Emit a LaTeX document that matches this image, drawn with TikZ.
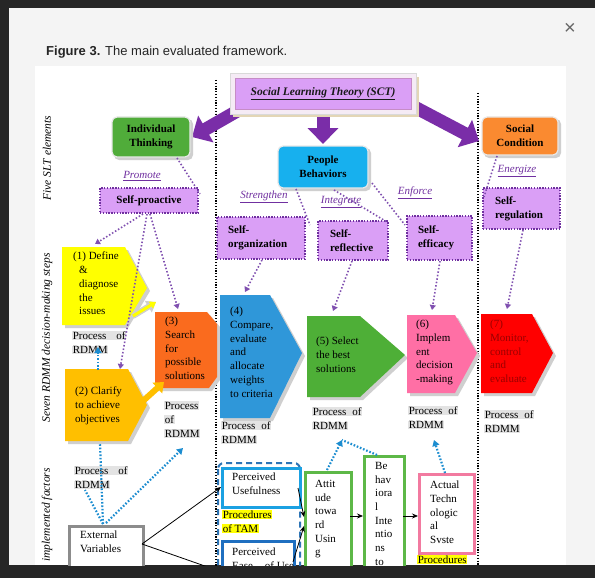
\documentclass[tikz,border=0pt]{standalone}
\usepackage{fontspec}
\setmainfont{Liberation Serif}
\newfontfamily\sansf{Liberation Sans}
\usetikzlibrary{arrows.meta}
\definecolor{bgdark}{HTML}{262626}
\definecolor{modal}{HTML}{F4F4F4}
\definecolor{lav}{HTML}{DA9FF6}
\definecolor{purp}{HTML}{7A2DA8}
\definecolor{dotp}{HTML}{8050B0}
\definecolor{lblp}{HTML}{7030A0}
\definecolor{itg}{HTML}{50AC3A}
\definecolor{pbc}{HTML}{17B0EE}
\definecolor{sco}{HTML}{FA8A30}
\definecolor{yel}{HTML}{FFFF00}
\definecolor{cla}{HTML}{FFBF00}
\definecolor{sea}{HTML}{FA6B1E}
\definecolor{cmp}{HTML}{2F97D9}
\definecolor{sel}{HTML}{4EAF37}
\definecolor{imp}{HTML}{FF6FA5}
\definecolor{mon}{HTML}{FF0000}
\definecolor{mont}{HTML}{9A0000}
\definecolor{hl}{HTML}{E3E3E3}
\definecolor{bdot}{HTML}{1C8DD0}
\definecolor{shad}{HTML}{CFCFCF}
\definecolor{tamb}{HTML}{2E75B6}
\definecolor{pub}{HTML}{1BA1E2}
\definecolor{peub}{HTML}{1F6FC0}
\definecolor{grb}{HTML}{5DB847}
\definecolor{pkb}{HTML}{F27AA0}
\definecolor{tan}{HTML}{E3D6B6}
\setlength{\fboxsep}{0.6pt}
\newcommand{\hlg}[1]{\colorbox{hl}{#1}}
\newcommand{\hly}[1]{\colorbox{yel}{#1}}
\tikzset{
  txt/.style={inner sep=0pt, anchor=north west, align=left, font=\fontsize{11}{13.7}\selectfont},
  ptxt/.style={inner sep=0pt, anchor=north west, align=left, font=\fontsize{11}{14}\selectfont},
  roundbox/.style={draw=white!82!gray, line width=1.2pt, rounded corners=5pt, align=center, inner sep=0pt, font=\fontsize{11}{13.7}\selectfont\bfseries},
  dotbox/.style={draw=lblp, fill=lav, line width=1.8pt, dash pattern=on 1.4pt off 1.4pt, inner sep=0pt, align=left, font=\fontsize{11}{14}\selectfont\bfseries},
  verbl/.style={text=lblp, inner sep=0pt, font=\fontsize{11}{13}\selectfont\itshape},
  sidel/.style={rotate=90, inner sep=0pt, font=\fontsize{11.5}{12}\selectfont\itshape},
  dotarr/.style={draw=dotp, line width=1.6pt, dash pattern=on 1.5pt off 2pt, -{Triangle[width=6pt,length=5pt]}},
  dotline/.style={draw=dotp, line width=1.6pt, dash pattern=on 1.5pt off 2pt},
  bluarr/.style={draw=bdot, line width=2.2pt, dash pattern=on 1.6pt off 1.8pt, -{Triangle[width=7pt,length=6pt]}},
  bluline/.style={draw=bdot, line width=2.2pt, dash pattern=on 1.6pt off 1.8pt},
  bigarr/.style={draw=purp, line width=13pt, -{Triangle[width=30pt,length=16pt]}},
  blkarr/.style={draw=black, line width=0.8pt, -{Stealth[width=5pt,length=6pt]}},
  sepline/.style={draw=black, line width=2pt, dash pattern=on 1.2pt off 1.6pt},
  tbox/.style={fill=white, line width=3pt},
}
\begin{document}
\begin{tikzpicture}[x=1pt,y=-1pt]
\useasboundingbox (0,0) rectangle (595,578);
\fill[bgdark] (0,0) rectangle (595,578);
\fill[modal] (9,8) rectangle (595,565);
\node[font=\sansf\fontsize{20}{20}\selectfont, text=black!60, inner sep=0pt] (close) at (570,29) {×};
\node[font=\sansf\fontsize{13}{13}\selectfont, text=black!85, inner sep=0pt, anchor=base west] (title) at (46,55.5) {\textbf{Figure 3.} The main evaluated framework.};
\begin{scope}
\clip (35,66) rectangle (566,565);
\fill[white] (35,66) rectangle (566,565);
% separators
\coordinate (v1t) at (216,80); \coordinate (v1b) at (216,570);
\coordinate (v2t) at (478,93); \coordinate (v2b) at (478,570);
\draw[sepline] (v1t) -- (v1b);
\draw[sepline] (v2t) -- (v2b);
% side labels
\node[sidel] (lab1) at (47,158) {Five SLT elements};
\node[sidel] (lab2) at (47,338) {Seven RDMM decision-making steps};
\node[sidel, anchor=east] (lab3) at (47,468) {implemented factors};
% big purple arrows
\coordinate (a1s) at (246,106); \coordinate (a1e) at (192,137);
\coordinate (a2s) at (323,108); \coordinate (a2e) at (323,144);
\coordinate (a3s) at (405,102); \coordinate (a3e) at (479,141);
\draw[bigarr] (a1s) -- (a1e);
\draw[bigarr] (a2s) -- (a2e);
\draw[bigarr] (a3s) -- (a3e);
% SCT box
\fill[tan] (233,77) rectangle (419,117);
\fill[white!92!violet, draw=black!15] (230,73) rectangle (416,114);
\node[fill=lav, draw=violet!45, line width=0.8pt, minimum width=176pt, minimum height=31pt, inner sep=0pt,
  font=\fontsize{11.5}{12}\selectfont\bfseries\itshape, text=black!90] (sct) at (323,94) {\underline{Social Learning Theory (SCT)}};
% SLT element boxes
\fill[shad, rounded corners=5pt] (114,119) rectangle (193,160);
\node[roundbox, fill=itg, minimum width=78pt, minimum height=40pt] (it) at (151,137) {Individual\\Thinking};
\fill[shad, rounded corners=5pt] (280,148) rectangle (371,191);
\node[roundbox, fill=pbc, minimum width=90pt, minimum height=42pt] (pb) at (323,167) {People\\Behaviors};
\fill[shad, rounded corners=5pt] (484,119) rectangle (561,158);
\node[roundbox, fill=sco, minimum width=76pt, minimum height=38pt] (sc) at (520,136) {Social\\Condition};
% verbs
\node[verbl] (vpro) at (142,176) {\underline{Promote}};
\node[verbl] (vstr) at (264,197) {\underline{Strengthen}};
\node[verbl] (vint) at (341,202) {\underline{Integrate}};
\node[verbl] (venf) at (415,193) {\underline{Enforce}};
\node[verbl] (vene) at (517,171) {\underline{Energize}};
% dotted boxes
\node[dotbox, minimum width=98pt, minimum height=25pt, align=center] (sp) at (149,200.5) {Self-proactive};
\node[dotbox, minimum width=88pt, minimum height=42pt, text width=66pt] (so) at (261,238) {Self-\\organization};
\node[dotbox, minimum width=70pt, minimum height=39pt, text width=46pt] (sr) at (353,240.5) {Self-\\reflective};
\node[dotbox, minimum width=65pt, minimum height=44pt, text width=43pt] (se) at (439.5,238) {Self-\\efficacy};
\node[dotbox, minimum width=77pt, minimum height=41pt, text width=53pt] (sg) at (521.5,208.5) {Self-\\regulation};
% step shapes
\fill[shad] (65,250) -- (128,250) -- (150,291) -- (128,328) -- (65,328) -- cycle;
\fill[yel] (62,247) -- (125,247) -- (147,288) -- (125,325) -- (62,325) -- cycle;
\fill[shad] (68,372) -- (131,372) -- (150,408) -- (131,444) -- (68,444) -- cycle;
\fill[cla] (65,369) -- (128,369) -- (147,405) -- (128,441) -- (65,441) -- cycle;
\fill[shad] (158,315) -- (210,315) -- (220,327) -- (220,380) -- (212,391) -- (158,391) -- cycle;
\fill[sea] (155,312) -- (207,312) -- (217,324) -- (217,377) -- (209,388) -- (155,388) -- cycle;
\fill[shad] (223,298) -- (273,298) -- (305,356) -- (273,421) -- (223,421) -- cycle;
\fill[cmp] (220,295) -- (270,295) -- (302,353) -- (270,418) -- (220,418) -- cycle;
\fill[shad] (310,319) -- (363,319) -- (408,358) -- (363,400) -- (310,400) -- cycle;
\fill[sel] (307,316) -- (360,316) -- (405,355) -- (360,397) -- (307,397) -- cycle;
\fill[shad] (410,318) -- (458,318) -- (480,356) -- (458,396) -- (410,396) -- cycle;
\fill[imp] (407,315) -- (455,315) -- (477,353) -- (455,393) -- (407,393) -- cycle;
\fill[shad] (484,317) -- (535,317) -- (556,356) -- (535,396) -- (484,396) -- cycle;
\fill[mon] (481,314) -- (532,314) -- (553,353) -- (532,393) -- (481,393) -- cycle;
% small process arrows
\coordinate (m1s) at (133,316); \coordinate (m1e) at (156,302);
\coordinate (m2s) at (143,401); \coordinate (m2e) at (164,382);
\draw[draw=shad, line width=6pt, -{Triangle[width=13pt,length=9pt]}] (m1s) -- (m1e);
\draw[draw=yel, line width=3pt, -{Triangle[width=8pt,length=6pt]}] (m1s) -- (m1e);
\draw[draw=cla, line width=6pt, -{Triangle[width=14pt,length=9pt]}] (m2s) -- (m2e);
% step texts
\node[txt] (t1) at (73,252) {(1) Define\\\hspace*{6pt}\&\\\hspace*{6pt}diagnose\\\hspace*{6pt}the\\\hspace*{6pt}issues};
\node[txt] (t2) at (75,387) {(2) Clarify\\to achieve\\objectives};
\node[txt] (t3) at (165,317) {(3)\\Search\\for\\possible\\solutions};
\node[txt] (t4) at (230,307) {(4)\\Compare,\\evaluate\\and\\allocate\\weights\\to criteria};
\node[txt] (t5) at (316,337) {(5) Select\\the best\\solutions};
\node[txt] (t6) at (416,320) {(6)\\Implem\\ent\\decision\\-making};
\node[txt, text=mont] (t7) at (490,320) {(7)\\Monitor,\\control\\and\\evaluate};
% process labels
\node[ptxt] (p1) at (72,331) {\hlg{Process\hspace{10pt}of}\\\hlg{RDMM}};
\node[ptxt] (p3) at (164,401) {\hlg{Process}\\\hlg{of}\\\hlg{RDMM}};
\node[ptxt] (p4) at (221,421) {\hlg{Process\hspace{6pt}of}\\\hlg{RDMM}};
\node[ptxt] (p5) at (312,407) {\hlg{Process\hspace{6pt}of}\\\hlg{RDMM}};
\node[ptxt] (p6) at (408,406) {\hlg{Process\hspace{6pt}of}\\\hlg{RDMM}};
\node[ptxt] (p7) at (484,410) {\hlg{Process\hspace{6pt}of}\\\hlg{RDMM}};
\node[ptxt] (pe) at (74,466) {\hlg{Process\hspace{10pt}of}\\\hlg{RDMM}};
% purple dotted connectors
\coordinate (it1) at (177,158); \coordinate (sp0) at (200,194);
\coordinate (sp1) at (143,214); \coordinate (d1t) at (95,244);
\coordinate (sp2) at (150,214); \coordinate (s3t) at (178,309);
\coordinate (sp3) at (147,214); \coordinate (c2t) at (120,369);
\coordinate (pb1) at (296,189); \coordinate (so0) at (310,225);
\coordinate (pb2) at (334,190); \coordinate (sr0) at (387,222);
\coordinate (pb3) at (372,183); \coordinate (se0) at (405,225);
\coordinate (sc1) at (497,156); \coordinate (sg0) at (484,197);
\coordinate (so1) at (262,260); \coordinate (s4t) at (245,292);
\coordinate (sr1) at (352,261); \coordinate (s5t) at (333,311);
\coordinate (se1) at (440,261); \coordinate (s6t) at (432,310);
\coordinate (sg1) at (523,230); \coordinate (s7t) at (507,309);
\draw[dotline] (it1) -- (sp0);
\draw[dotarr] (sp1) -- (d1t);
\draw[dotarr] (sp2) -- (s3t);
\draw[dotarr] (sp3) -- (c2t);
\draw[dotline] (pb1) -- (so0);
\draw[dotline] (pb2) -- (sr0);
\draw[dotline] (pb3) -- (se0);
\draw[dotline] (sc1) -- (sg0);
\draw[dotarr] (so1) -- (s4t);
\draw[dotarr] (sr1) -- (s5t);
\draw[dotarr] (se1) -- (s6t);
\draw[dotarr] (sg1) -- (s7t);
% bottom: TAM
\draw[draw=tamb, line width=2pt, dash pattern=on 6pt off 4pt, rounded corners=6pt] (218,463) rectangle (300,600);
\node[draw=black!45, tbox, minimum width=74pt, minimum height=45pt, anchor=north west] (ev) at (68,525) {};
\node[txt] (evt) at (80,531) {External\\Variables};
\node[draw=pub, tbox, minimum width=78pt, minimum height=39pt, anchor=north west] (pu) at (221,467) {};
\node[txt] (put) at (232,473) {Perceived\\Usefulness};
\node[ptxt] (ptam) at (222,510) {\hly{Procedures}\\\hly{of TAM}};
\node[draw=peub, tbox, minimum width=72pt, minimum height=60pt, anchor=north west] (peu) at (221,540) {};
\node[txt] (peut) at (232,548) {Perceived\\Ease\hspace{12pt}of Use};
\node[draw=grb, tbox, minimum width=46pt, minimum height=130pt, anchor=north west] (at) at (304,471) {};
\node[txt] (att) at (315,480) {Attit\\ude\\towa\\rd\\Usin\\g};
\node[draw=grb, tbox, minimum width=40pt, minimum height=150pt, anchor=north west] (bi) at (363,455) {};
\node[txt] (bit) at (375,462) {Be\\hav\\iora\\l\\Inte\\ntio\\ns\\to};
\node[draw=pkb, tbox, minimum width=55pt, minimum height=79pt, anchor=north west] (ats) at (418,473) {};
\node[txt] (atst) at (430,481) {Actual\\Techn\\ologic\\al\\Svste};
\node[ptxt] (pats) at (417,555) {\hly{Procedures}};
% black arrows
\coordinate (ev1) at (142,544); \coordinate (pu0) at (221,487);
\coordinate (peu0) at (222,572);
\coordinate (pu1) at (298,488); \coordinate (at0) at (304,517);
\coordinate (peu1) at (293,562); \coordinate (at0b) at (304,526);
\coordinate (at1) at (350,516); \coordinate (bi0) at (363,516);
\coordinate (bi1) at (403,516); \coordinate (ats0) at (418,516);
\draw[blkarr] (ev1) -- (pu0);
\draw[blkarr] (ev1) -- (peu0);
\draw[blkarr] (pu1) -- (at0);
\draw[blkarr] (peu1) -- (at0b);
\draw[blkarr] (at1) -- (bi0);
\draw[blkarr] (bi1) -- (ats0);
% blue dotted connectors
\coordinate (c2u) at (98,370); \coordinate (p1b) at (98,347);
\coordinate (ev0) at (103,524); \coordinate (c2b) at (100,443);
\coordinate (peb) at (85,490);
\coordinate (ev2) at (106,523); \coordinate (p3b) at (183,448);
\coordinate (at2) at (327,470); \coordinate (p5b) at (342,440);
\coordinate (bi2) at (377,455);
\coordinate (ats1) at (445,473); \coordinate (p6b) at (434,440);
\draw[bluarr] (c2u) -- (p1b);
\draw[bluline] (ev0) -- (c2b);
\draw[bluline] (ev0) -- (peb);
\draw[bluarr] (ev2) -- (p3b);
\draw[bluarr] (at2) -- (p5b);
\draw[bluline] (bi2) -- (p5b);
\draw[bluarr] (ats1) -- (p6b);
\end{scope}
\end{tikzpicture}
\end{document}
